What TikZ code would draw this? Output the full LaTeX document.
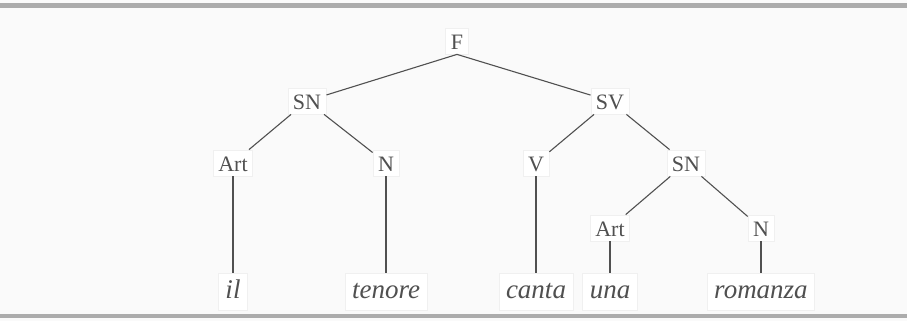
\documentclass[tikz,border=0pt]{standalone}
\usepackage{fontspec}
\setmainfont{Liberation Serif}
\definecolor{scangray}{RGB}{172,172,172}
\definecolor{inkgray}{RGB}{80,80,80}
\definecolor{paper}{RGB}{250,250,250}

\begin{document}
\begin{tikzpicture}[x=0.5pt, y=-0.5pt,
  cat/.style={font=\fontsize{11}{13}\selectfont, text=inkgray, fill=white, draw=black!6,
    inner sep=2.5pt, text height=8pt, text depth=0pt},
  word/.style={font=\fontsize{13.5}{16}\selectfont\itshape, text=inkgray, fill=white, draw=black!6,
    inner sep=3.5pt, text height=9pt, text depth=2.5pt},
  branch/.style={draw=inkgray, line width=0.55pt}]
\fill[paper] (0,0) rectangle (907,321);
\useasboundingbox (0,0) rectangle (907,321);
\fill[scangray] (0,3) rectangle (907,8);
\fill[scangray] (0,314) rectangle (907,318);

% categories
\node[cat] (f) at (457,41) {F};
\node[cat] (sn1) at (307,101) {SN};
\node[cat] (sv) at (610,101) {SV};
\node[cat] (art1) at (233,163) {Art};
\node[cat] (n1) at (386,163) {N};
\node[cat] (v) at (536,163) {V};
\node[cat] (sn2) at (686,163) {SN};
\node[cat] (art2) at (610,228) {Art};
\node[cat] (n2) at (761,228) {N};

% words
\node[word] (il) at (233,292) {il};
\node[word] (tenore) at (386,292) {tenore};
\node[word] (canta) at (536,292) {canta};
\node[word] (una) at (610,292) {una};
\node[word] (romanza) at (761,292) {romanza};

\draw[branch] (f.south) -- (sn1);
\draw[branch] (f.south) -- (sv);
\draw[branch] (sn1) -- (art1);
\draw[branch] (sn1) -- (n1);
\draw[branch] (sv) -- (v);
\draw[branch] (sv) -- (sn2);
\draw[branch] (sn2) -- (art2);
\draw[branch] (sn2) -- (n2);
\draw[branch] (art1) -- (il);
\draw[branch] (n1) -- (tenore);
\draw[branch] (v) -- (canta);
\draw[branch] (art2) -- (una);
\draw[branch] (n2) -- (romanza);

\end{tikzpicture}
\end{document}
